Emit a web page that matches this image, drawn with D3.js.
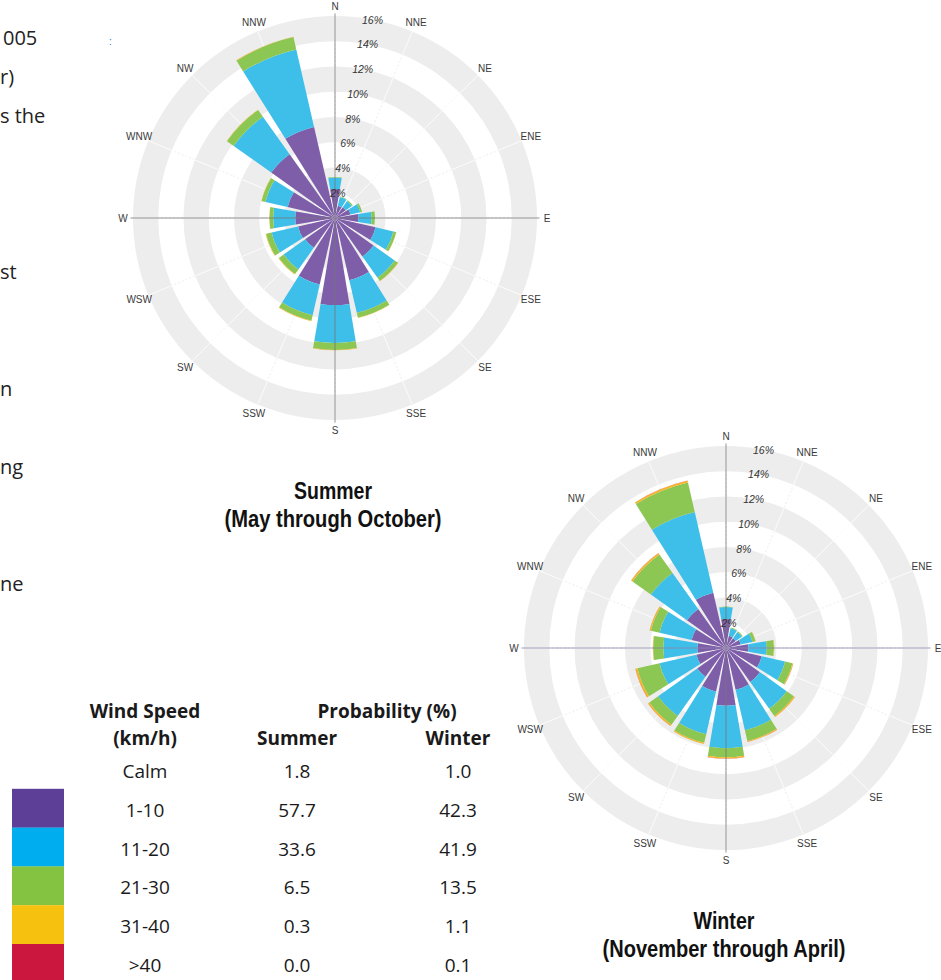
<!DOCTYPE html>
<html>
<head>
<meta charset="utf-8">
<script src="https://cdn.jsdelivr.net/npm/d3@7"></script>
<style>
	body { margin: 0; background: #fff; }
	svg { display: block; }
	.cmp { font-family: "Liberation Sans", Arial, sans-serif; font-size: 10px; fill: #3a3a3a; }
	.pct { font-family: "Liberation Sans", Arial, sans-serif; font-size: 10.5px; font-style: italic; fill: #333; }
	.ttl { font-family: "Liberation Sans Narrow", "Liberation Sans", sans-serif; font-weight: bold; font-size: 24px; fill: #111; }
	.tbl { font-family: "Open Sans", "Noto Sans", sans-serif; font-size: 19px; fill: #1a1a1a; }
	.tbl.hd { font-weight: bold; }
	.body { font-family: "Open Sans", "Noto Sans", sans-serif; font-size: 20px; fill: #222; }
</style>
</head>
<body>
<div id="chart"></div>
<script>
var directions = ["N", "NNE", "NE", "ENE", "E", "ESE", "SE", "SSE", "S", "SSW", "SW", "WSW", "W", "WNW", "NW", "NNW"];
var speedBins = ["1-10", "11-20", "21-30", "31-40", ">40"];
var barColors = ["#7e5ea8", "#3ebfea", "#8cc653", "#f4b52a", "#e2452e"];
var swatchColors = ["#5e3f97", "#00aeef", "#84c341", "#f7c10f", "#cb163e"];
var ringTicks = [2, 4, 6, 8, 10, 12, 14, 16];
var bandStarts = [2, 6, 10, 14];

// summer (May - October), % per direction
var summer1_10  = [2.3, 1.0, 1.05, 1.25, 1.85, 3.3, 3.75, 5.05, 6.9, 5.4, 2.9, 3.0, 3.15, 3.85, 6.2, 7.4];
var summer11_20 = [0.9, 0.7, 0.6, 0.8, 1.05, 1.45, 2.05, 2.65, 3.0, 2.5, 2.1, 2.15, 1.75, 1.8, 3.65, 6.3];
var summer21_30 = [0.05, 0.05, 0.08, 0.15, 0.27, 0.22, 0.32, 0.4, 0.55, 0.45, 0.45, 0.45, 0.3, 0.32, 0.65, 1.0];
var summer31_40 = [0, 0, 0, 0, 0, 0.02, 0.03, 0.02, 0.03, 0.04, 0.05, 0.04, 0.02, 0.02, 0.03, 0.04];
var summerOver40 = [0, 0, 0, 0, 0, 0, 0, 0, 0, 0, 0, 0, 0, 0, 0, 0];

// winter (November - April)
var winter1_10  = [2.3, 1.0, 0.95, 1.2, 1.77, 2.9, 3.3, 3.4, 4.58, 3.55, 2.8, 2.4, 2.27, 2.8, 3.8, 4.5];
var winter11_20 = [0.95, 0.6, 0.6, 0.95, 1.46, 1.9, 2.6, 3.3, 3.36, 3.45, 3.8, 3.0, 2.7, 2.6, 3.5, 6.55];
var winter21_30 = [0.03, 0.07, 0.08, 0.25, 0.57, 0.6, 0.7, 0.85, 0.72, 0.7, 0.85, 1.8, 0.8, 0.7, 1.8, 2.4];
var winter31_40 = [0, 0, 0, 0.02, 0.03, 0.06, 0.1, 0.07, 0.1, 0.1, 0.12, 0.15, 0.03, 0.1, 0.12, 0.15];
var winterOver40 = [0, 0, 0, 0, 0, 0.01, 0.01, 0.01, 0.01, 0.01, 0.02, 0.02, 0, 0.01, 0.01, 0.01];

// table
var tableLabels = ["Calm", "1-10", "11-20", "21-30", "31-40", ">40"];
var summerProb = ["1.8", "57.7", "33.6", "6.5", "0.3", "0.0"];
var winterProb = ["1.0", "42.3", "41.9", "13.5", "1.1", "0.1"];

// clipped body text on the left edge of the page
var bodyFragments = ["005", "r)", "s the", "", "", "", "st", "", "", "n", "", "ng", "", "", "ne"];

var width = 941, height = 980;
var svg = d3.select("#chart").append("svg").attr("width", width).attr("height", height);

function windRose(cx, cy, series, title, subtitle, titleWidths, axisColor) {
	var rows = directions.map(function(d, i) {
		var o = {dir: d};
		speedBins.forEach(function(b, j) { o[b] = series[j][i]; });
		return o;
	});
	var stacked = d3.stack().keys(speedBins)(rows);

	var r = d3.scaleLinear().domain([0, 16]).range([0, 202]);
	var step = 2 * Math.PI / directions.length;
	var a = d3.scaleBand().domain(directions)
			.range([-step / 2, 2 * Math.PI - step / 2])
			.paddingInner(0.15).paddingOuter(0.075);
	var mid = function(d) { return a(d) + a.bandwidth() / 2; };

	var g = svg.append("g").attr("transform", "translate(" + cx + "," + cy + ")");

	// light spokes (visible in the white rings)
	g.selectAll(".spoke").data(directions).enter().append("line")
			.attr("x1", 0).attr("y1", 0)
			.attr("x2", function(d) { return r(16) * Math.sin(mid(d)); })
			.attr("y2", function(d) { return -r(16) * Math.cos(mid(d)); })
			.attr("stroke", "#dadada").attr("stroke-dasharray", "2,2");

	// grey rings
	g.selectAll(".band").data(bandStarts).enter().append("path")
			.attr("d", d3.arc()
				.innerRadius(function(d) { return r(d); })
				.outerRadius(function(d) { return r(d + 2); })
				.startAngle(0).endAngle(2 * Math.PI))
			.attr("fill", "#ededed");

	// white spokes through the grey rings
	g.selectAll(".wspoke").data(directions).enter().append("line")
			.attr("x1", 0).attr("y1", 0)
			.attr("x2", function(d) { return r(16) * Math.sin(mid(d)); })
			.attr("y2", function(d) { return -r(16) * Math.cos(mid(d)); })
			.attr("stroke", "#fff").attr("stroke-width", 0.8);

	// bars
	var arc = d3.arc()
			.innerRadius(function(d) { return r(d[0]); })
			.outerRadius(function(d) { return r(d[1]); })
			.startAngle(function(d) { return a(d.data.dir); })
			.endAngle(function(d) { return a(d.data.dir) + a.bandwidth(); });

	g.selectAll(".layer").data(stacked).enter().append("g")
			.attr("fill", function(d, i) { return barColors[i]; })
		.selectAll("path").data(function(d) { return d; }).enter().append("path")
			.attr("d", arc);

	// main axes
	g.append("line").attr("x1", -r(16.2)).attr("x2", r(16.2)).attr("y1", 0).attr("y2", 0)
			.attr("stroke", axisColor[0]).attr("stroke-opacity", 0.8);
	g.append("line").attr("y1", -r(16.2)).attr("y2", r(16.2)).attr("x1", 0).attr("x2", 0)
			.attr("stroke", axisColor[1]).attr("stroke-opacity", 0.8);

	// compass labels
	g.selectAll(".cmp").data(directions).enter().append("text")
			.attr("class", "cmp")
			.attr("text-anchor", "middle")
			.attr("dy", "0.35em")
			.attr("x", function(d) { return 212 * Math.sin(mid(d)); })
			.attr("y", function(d) { return -212 * Math.cos(mid(d)); })
			.text(function(d) { return d; });

	// ring labels
	var tilt = 0.197;
	g.selectAll(".pct").data(ringTicks).enter().append("text")
			.attr("class", "pct")
			.attr("text-anchor", "middle")
			.attr("dy", "0.35em")
			.attr("x", function(d) { return r(d) * Math.sin(tilt) - 2; })
			.attr("y", function(d) { return -r(d) * Math.cos(tilt); })
			.text(function(d) { return d + "%"; });

	// title
	var t = svg.append("g").attr("transform", "translate(" + (cx - 2) + "," + (cy + 281) + ")");
	t.append("text").attr("class", "ttl").attr("text-anchor", "middle")
			.attr("textLength", titleWidths[0]).attr("lengthAdjust", "spacingAndGlyphs")
			.text(title);
	t.append("text").attr("class", "ttl").attr("text-anchor", "middle").attr("y", 28)
			.attr("textLength", titleWidths[1]).attr("lengthAdjust", "spacingAndGlyphs")
			.text(subtitle);
}

windRose(335, 218,
	[summer1_10, summer11_20, summer21_30, summer31_40, summerOver40],
	"Summer", "(May through October)", [78, 217], ["#777", "#777"]);

windRose(726, 648,
	[winter1_10, winter11_20, winter21_30, winter31_40, winterOver40],
	"Winter", "(November through April)", [61, 243], ["#8a82aa", "#777"]);

// left page text
svg.append("g").selectAll("text").data(bodyFragments).enter().append("text")
		.attr("class", "body")
		.attr("x", function(d, i) { return i === 0 ? 3 : 0; })
		.attr("y", function(d, i) { return 45 + i * 39; })
		.text(function(d) { return d; });
svg.append("text").attr("x", 109).attr("y", 45).attr("font-size", 10)
		.attr("fill", "#2a7bd1").attr("font-family", "Liberation Sans").text(":");

// table
var tbl = svg.append("g");
var colX = [145, 297, 458];
var rowY = d3.scaleLinear().domain([0, 1]).range([778, 816.8]);

tbl.append("text").attr("class", "tbl hd").attr("x", colX[0]).attr("y", 718).attr("text-anchor", "middle").text("Wind Speed");
tbl.append("text").attr("class", "tbl hd").attr("x", colX[0]).attr("y", 745).attr("text-anchor", "middle").text("(km/h)");
tbl.append("text").attr("class", "tbl hd").attr("x", 387).attr("y", 718).attr("text-anchor", "middle").text("Probability (%)");
tbl.append("text").attr("class", "tbl hd").attr("x", colX[1]).attr("y", 745).attr("text-anchor", "middle").text("Summer");
tbl.append("text").attr("class", "tbl hd").attr("x", colX[2]).attr("y", 745).attr("text-anchor", "middle").text("Winter");

tbl.selectAll(".sw").data(swatchColors).enter().append("rect")
		.attr("x", 12).attr("width", 52)
		.attr("y", function(d, i) { return rowY(i + 1) - 28; })
		.attr("height", 39)
		.attr("fill", function(d) { return d; });

[tableLabels, summerProb, winterProb].forEach(function(col, c) {
	tbl.selectAll(".c" + c).data(col).enter().append("text")
			.attr("class", "tbl")
			.attr("text-anchor", "middle")
			.attr("x", colX[c])
			.attr("y", function(d, i) { return rowY(i); })
			.text(function(d) { return d; });
});
</script>
</body>
</html>
